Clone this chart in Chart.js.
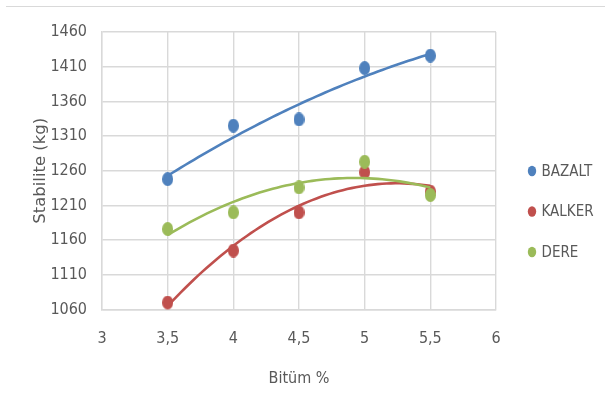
<!DOCTYPE html>
<html>
<head>
<meta charset="utf-8">
<script src="https://cdn.jsdelivr.net/npm/chart.js@4.4.1/dist/chart.umd.min.js"></script>
<style>
  html, body { margin: 0; padding: 0; background: #ffffff; }
  #wrap { position: relative; width: 605px; height: 414px; }
  #topRule { position: absolute; left: 6px; right: 0; top: 6px; height: 1px; background: #d9d9d9; }
</style>
</head>
<body>
<div id="wrap">
  <div id="topRule"></div>
  <canvas id="c" width="605" height="414"></canvas>
</div>
<script>
// Bitumen content (%) tested for each aggregate type
const bitumen = [3.5, 4, 4.5, 5, 5.5];

// Marshall stability (kg) per aggregate
const bazalt = [1248, 1325, 1334, 1408, 1426];
const kalker = [1070, 1145, 1200, 1258, 1230];
const dere   = [1176, 1200, 1236, 1273, 1225];

const seriesNames = ['BAZALT', 'KALKER', 'DERE'];
const seriesColors = ['#4f81bd', '#c0504d', '#9bbb59'];

// Axis tick values and their printed labels
const xTicks = [3, 3.5, 4, 4.5, 5, 5.5, 6];
const xTickLabels = ['3', '3,5', '4', '4,5', '5', '5,5', '6'];
const yTicks = [1060, 1110, 1160, 1210, 1260, 1310, 1360, 1410, 1460];

const narrow = '"Liberation Sans Narrow", "DejaVu Sans Condensed", "Liberation Sans", sans-serif';
const textGray = '#595959';
const gridGray = '#d9d9d9';

// Second-order least-squares trend line through a series
function quadFit(xs, ys) {
  let s = [0, 0, 0, 0, 0], t = [0, 0, 0];
  for (let i = 0; i < xs.length; i++) {
    let p = 1;
    for (let k = 0; k < 5; k++) { s[k] += p; if (k < 3) t[k] += p * ys[i]; p *= xs[i]; }
  }
  const M = [[s[0], s[1], s[2], t[0]], [s[1], s[2], s[3], t[1]], [s[2], s[3], s[4], t[2]]];
  for (let c = 0; c < 3; c++) {
    for (let r = c + 1; r < 3; r++) {
      const f = M[r][c] / M[c][c];
      for (let k = c; k < 4; k++) M[r][k] -= f * M[c][k];
    }
  }
  const a = [0, 0, 0];
  for (let r = 2; r >= 0; r--) {
    let v = M[r][3];
    for (let k = r + 1; k < 3; k++) v -= M[r][k] * a[k];
    a[r] = v / M[r][r];
  }
  return x => a[0] + a[1] * x + a[2] * x * x;
}

function trendPoints(ys) {
  const f = quadFit(bitumen, ys);
  const pts = [];
  const x0 = bitumen[0], x1 = bitumen[bitumen.length - 1];
  const n = 60;
  for (let i = 0; i <= n; i++) {
    const x = x0 + (x1 - x0) * i / n;
    pts.push({ x: x, y: f(x) });
  }
  return pts;
}

// Slightly tall oval marker
function ovalMarker(color, w, h) {
  const cv = document.createElement('canvas');
  cv.width = w; cv.height = h;
  const g = cv.getContext('2d');
  g.fillStyle = color;
  g.beginPath();
  g.ellipse(w / 2, h / 2, w / 2, h / 2, 0, 0, Math.PI * 2);
  g.fill();
  return cv;
}

const allSeries = [bazalt, kalker, dere];
const datasets = [];
allSeries.forEach((ys, i) => {
  datasets.push({
    type: 'scatter',
    label: seriesNames[i],
    data: bitumen.map((x, j) => ({ x: x, y: ys[j] })),
    pointStyle: ovalMarker(seriesColors[i], 11, 14),
    backgroundColor: seriesColors[i],
    borderColor: seriesColors[i],
    order: 6 - i
  });
});
allSeries.forEach((ys, i) => {
  datasets.push({
    type: 'line',
    label: seriesNames[i] + ' trend',
    data: trendPoints(ys),
    borderColor: seriesColors[i],
    borderWidth: 2.6,
    pointRadius: 0,
    fill: false,
    tension: 0,
    order: 3 - i
  });
});

// Legend drawn to the right of the plot
const sideLegend = {
  id: 'sideLegend',
  afterDraw(chart) {
    const ctx = chart.ctx;
    const area = chart.chartArea;
    const mx = area.right + 36;
    const baseY = 171;
    const gap = 40.5;
    ctx.save();
    ctx.font = '15px ' + narrow;
    ctx.textBaseline = 'middle';
    ctx.textAlign = 'left';
    seriesNames.forEach((name, i) => {
      const y = baseY + i * gap;
      ctx.fillStyle = seriesColors[i];
      ctx.beginPath();
      ctx.ellipse(mx, y, 4.2, 5.2, 0, 0, Math.PI * 2);
      ctx.fill();
      ctx.fillStyle = textGray;
      ctx.fillText(name, mx + 9.5, y + 1);
    });
    ctx.restore();
  }
};

new Chart(document.getElementById('c'), {
  type: 'scatter',
  data: { datasets: datasets },
  options: {
    responsive: false,
    animation: false,
    devicePixelRatio: 1,
    layout: { padding: { left: 0, right: 109, top: 32, bottom: 0 } },
    plugins: {
      legend: { display: false },
      tooltip: { enabled: false }
    },
    scales: {
      x: {
        type: 'linear',
        min: 3, max: 6,
        afterBuildTicks(scale) { scale.ticks = xTicks.map(v => ({ value: v })); },
        afterFit(scale) { scale.height = 104.5; },
        ticks: {
          padding: 20,
          color: textGray,
          font: { family: narrow, size: 16 },
          callback: (v) => xTickLabels[xTicks.indexOf(v)]
        },
        grid: { color: gridGray, lineWidth: 1.4, drawTicks: false },
        border: { color: gridGray, width: 1.4 },
        title: {
          display: true,
          text: 'Bitüm %',
          color: textGray,
          font: { family: narrow, size: 16 },
          padding: { top: 0, bottom: 26 }
        }
      },
      y: {
        type: 'linear',
        min: 1060, max: 1460,
        afterBuildTicks(scale) { scale.ticks = yTicks.map(v => ({ value: v })); },
        afterFit(scale) { scale.width = 102; },
        ticks: {
          padding: 15,
          color: textGray,
          font: { family: narrow, size: 16 },
          callback: (v) => String(v)
        },
        grid: { color: gridGray, lineWidth: 1.4, drawTicks: false },
        border: { color: gridGray, width: 1.4 },
        title: {
          display: true,
          text: 'Stabilite (kg)',
          color: textGray,
          font: { family: '"DejaVu Sans", sans-serif', size: 16.5 },
          padding: { top: 31, bottom: 0 }
        }
      }
    }
  },
  plugins: [sideLegend]
});
</script>
</body>
</html>
